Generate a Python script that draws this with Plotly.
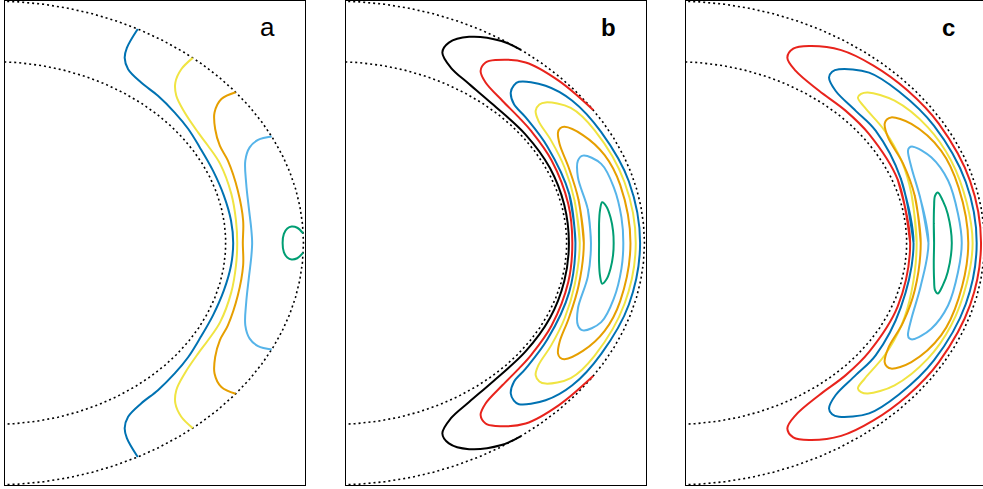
import numpy as np
import plotly.graph_objects as go

# ---------------- data (meridional plane, units of outer radius) ----------------
# s = cylindrical radius, z = height; upper half only (figure is equator-symmetric)
SHELL_RADII = [0.75, 1.0]

# panel a : open contours ending on the outer boundary
A_BLUE_S = [0.774, 0.767, 0.744, 0.709, 0.667, 0.629, 0.586, 0.532, 0.478, 0.436, 0.425, 0.432, 0.467]
A_BLUE_Z = [0.000, 0.093, 0.196, 0.299, 0.394, 0.472, 0.539, 0.608, 0.663, 0.718, 0.765, 0.806, 0.884]
A_YEL_S = [0.787, 0.783, 0.768, 0.732, 0.693, 0.661, 0.618, 0.591, 0.588, 0.607, 0.644]
A_YEL_Z = [0.000, 0.093, 0.203, 0.327, 0.402, 0.457, 0.539, 0.608, 0.663, 0.718, 0.765]
A_ORA_S = [0.805, 0.806, 0.789, 0.757, 0.731, 0.716, 0.714, 0.736, 0.782]
A_ORA_Z = [0.000, 0.093, 0.216, 0.340, 0.402, 0.471, 0.539, 0.595, 0.623]
A_LB_S = [0.835, 0.832, 0.824, 0.816, 0.813, 0.827, 0.854, 0.898]
A_LB_Z = [0.000, 0.060, 0.148, 0.244, 0.340, 0.395, 0.426, 0.440]
A_GRN_S = [0.933, 0.937, 0.948, 0.962, 0.980, 0.999]
A_GRN_Z = [0.000, 0.038, 0.060, 0.068, 0.063, 0.040]

# panel b : black and red open, others closed
B_BLACK_S = [0.757, 0.742, 0.696, 0.617, 0.511, 0.436, 0.377, 0.350, 0.371, 0.436, 0.540, 0.603]
B_BLACK_Z = [0.000, 0.158, 0.310, 0.449, 0.574, 0.657, 0.725, 0.787, 0.828, 0.852, 0.835, 0.798]
B_RED_S = [0.768, 0.755, 0.701, 0.636, 0.596, 0.543, 0.489, 0.473, 0.489, 0.521, 0.618, 0.725, 0.835]
B_RED_Z = [0.000, 0.161, 0.342, 0.462, 0.519, 0.588, 0.663, 0.711, 0.746, 0.756, 0.746, 0.670, 0.550]
B_BLU_S = [0.778, 0.758, 0.688, 0.618, 0.580, 0.570, 0.580, 0.596, 0.682, 0.768, 0.861, 0.950, 0.986]
B_BLU_Z = [0.000, 0.203, 0.398, 0.519, 0.574, 0.622, 0.651, 0.666, 0.650, 0.588, 0.458, 0.254, 0.000]
B_YEL_S = [0.792, 0.775, 0.743, 0.700, 0.659, 0.650, 0.662, 0.682, 0.763, 0.840, 0.936, 0.972]
B_YEL_Z = [0.000, 0.176, 0.312, 0.423, 0.505, 0.546, 0.572, 0.581, 0.558, 0.465, 0.251, 0.000]
B_ORA_S = [0.805, 0.788, 0.756, 0.727, 0.722, 0.729, 0.743, 0.802, 0.872, 0.922, 0.955]
B_ORA_Z = [0.000, 0.178, 0.313, 0.409, 0.457, 0.474, 0.480, 0.446, 0.363, 0.240, 0.000]
B_LB_S = [0.828, 0.818, 0.786, 0.786, 0.802, 0.861, 0.902, 0.926, 0.932]
B_LB_Z = [0.000, 0.138, 0.271, 0.340, 0.361, 0.327, 0.228, 0.106, 0.000]
B_GRN_S = [0.854, 0.854, 0.857, 0.864, 0.878, 0.891, 0.899, 0.901]
B_GRN_Z = [0.000, 0.080, 0.135, 0.168, 0.150, 0.105, 0.050, 0.000]

# panel c : all closed
C_RED_S = [0.761, 0.721, 0.629, 0.554, 0.468, 0.393, 0.366, 0.385, 0.436, 0.539, 0.643, 0.752, 0.853, 0.954, 0.989]
C_RED_Z = [0.000, 0.262, 0.450, 0.546, 0.629, 0.711, 0.766, 0.803, 0.814, 0.797, 0.733, 0.631, 0.493, 0.256, 0.000]
C_BLU_S = [0.772, 0.731, 0.650, 0.586, 0.521, 0.500, 0.510, 0.532, 0.629, 0.725, 0.838, 0.940, 0.975]
C_BLU_Z = [0.000, 0.266, 0.464, 0.546, 0.629, 0.684, 0.708, 0.718, 0.704, 0.626, 0.484, 0.252, 0.000]
C_YEL_S = [0.782, 0.765, 0.733, 0.679, 0.615, 0.593, 0.603, 0.625, 0.711, 0.818, 0.893, 0.943, 0.962]
C_YEL_Z = [0.000, 0.203, 0.340, 0.464, 0.560, 0.601, 0.616, 0.622, 0.588, 0.478, 0.340, 0.166, 0.000]
C_ORA_S = [0.795, 0.776, 0.738, 0.690, 0.679, 0.686, 0.700, 0.765, 0.861, 0.917, 0.948]
C_ORA_Z = [0.000, 0.194, 0.329, 0.436, 0.492, 0.510, 0.519, 0.492, 0.381, 0.229, 0.000]
C_LB_S = [0.820, 0.795, 0.765, 0.754, 0.758, 0.770, 0.829, 0.883, 0.915, 0.927]
C_LB_Z = [0.000, 0.178, 0.313, 0.381, 0.394, 0.398, 0.354, 0.258, 0.120, 0.000]
C_GRN_S = [0.838, 0.837, 0.838, 0.841, 0.850, 0.866, 0.882, 0.895]
C_GRN_Z = [0.000, 0.080, 0.150, 0.195, 0.209, 0.175, 0.120, 0.000]

PANEL_LABELS = ["a", "<b>b</b>", "<b>c</b>"]

COL = {
    "blue": "#0072B2", "yellow": "#F0E442", "orange": "#E69F00",
    "lblue": "#56B4E9", "green": "#009E73", "red": "#E8231C", "black": "#000000",
}

# (s, z, colour, closed?)
PANELS = [
    [(A_BLUE_S, A_BLUE_Z, "blue", False), (A_YEL_S, A_YEL_Z, "yellow", False),
     (A_ORA_S, A_ORA_Z, "orange", False), (A_LB_S, A_LB_Z, "lblue", False),
     (A_GRN_S, A_GRN_Z, "green", False)],
    [(B_BLACK_S, B_BLACK_Z, "black", False), (B_RED_S, B_RED_Z, "red", False),
     (B_BLU_S, B_BLU_Z, "blue", True), (B_YEL_S, B_YEL_Z, "yellow", True),
     (B_ORA_S, B_ORA_Z, "orange", True), (B_LB_S, B_LB_Z, "lblue", True),
     (B_GRN_S, B_GRN_Z, "green", True)],
    [(C_RED_S, C_RED_Z, "red", True), (C_BLU_S, C_BLU_Z, "blue", True),
     (C_YEL_S, C_YEL_Z, "yellow", True), (C_ORA_S, C_ORA_Z, "orange", True),
     (C_LB_S, C_LB_Z, "lblue", True), (C_GRN_S, C_GRN_Z, "green", True)],
]


def mirror(s, z, closed):
    s = np.asarray(s, float)
    z = np.asarray(z, float)
    if closed:
        S = np.concatenate([s, s[::-1][1:], s[1:2]])
        Z = np.concatenate([z, -z[::-1][1:], z[1:2]])
    else:
        S = np.concatenate([s[::-1], s[1:]])
        Z = np.concatenate([-z[::-1], z[1:]])
    return S, Z


W, H = 983, 489
LEFTS = [5, 346, 686]
PW = 300
XR0, XSPAN = 0.04, 0.965  # data span for 300 px

fig = go.Figure()
th = np.radians(np.linspace(-90, 90, 721))
for i, curves in enumerate(PANELS):
    xa = "x" if i == 0 else f"x{i+1}"
    ya = "y" if i == 0 else f"y{i+1}"
    for r in SHELL_RADII:
        fig.add_trace(go.Scatter(x=r * np.cos(th), y=r * np.sin(th), mode="lines",
                                 line=dict(color="black", width=1.6, dash="2px,3px"),
                                 xaxis=xa, yaxis=ya, hoverinfo="skip"))
    for s, z, c, closed in curves:
        S, Z = mirror(s, z, closed)
        fig.add_trace(go.Scatter(x=S, y=Z, mode="lines",
                                 line=dict(color=COL[c], width=2, shape="spline", smoothing=1.0),
                                 xaxis=xa, yaxis=ya, hoverinfo="skip"))

layout = dict(width=W, height=H, margin=dict(l=0, r=0, t=1, b=4),
              paper_bgcolor="white", plot_bgcolor="white", showlegend=False)
ax_common = dict(showline=True, linecolor="black", linewidth=1.3, showticklabels=False,
                 ticks="", showgrid=False, zeroline=False, fixedrange=True)
for i, x0 in enumerate(LEFTS):
    x1 = min(x0 + PW, W)
    xk = "xaxis" if i == 0 else f"xaxis{i+1}"
    yk = "yaxis" if i == 0 else f"yaxis{i+1}"
    span = XSPAN * (x1 - x0) / PW
    layout[xk] = dict(ax_common, domain=[x0 / W, x1 / W], range=[XR0, XR0 + span],
                      mirror=True, anchor="y" if i == 0 else f"y{i+1}")
    layout[yk] = dict(ax_common, domain=[0, 1], range=[-1, 1],
                      mirror=(x0 + PW <= W), anchor="x" if i == 0 else f"x{i+1}")

annotations = []
for i, x0 in enumerate(LEFTS):
    annotations.append(dict(text=PANEL_LABELS[i], xref="paper", yref="paper",
                            x=(x0 + 262) / W, y=1 - (27 - 1) / 484,
                            xanchor="center", yanchor="middle", showarrow=False,
                            font=dict(family="Liberation Sans, Arial, sans-serif",
                                      size=26 if i == 0 else 24, color="black")))
layout["annotations"] = annotations
fig.update_layout(**layout)
fig.write_html("out.html", config={"displayModeBar": False},
               post_script="document.body.style.margin='0';document.body.style.overflow='hidden';")
